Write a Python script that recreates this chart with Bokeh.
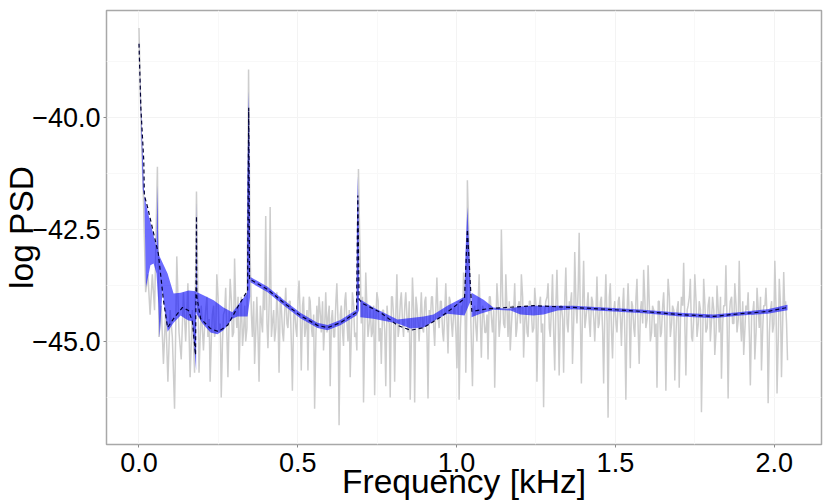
from bokeh.plotting import figure
from bokeh.models import FixedTicker
from bokeh.embed import file_html
from bokeh.resources import INLINE

# periodogram
grey_freq = [
    0.000, 0.007, 0.014, 0.021, 0.028, 0.035, 0.042, 0.049, 0.058, 0.063,
    0.070, 0.077, 0.084, 0.091, 0.098, 0.105, 0.112, 0.119, 0.126, 0.133,
    0.140, 0.147, 0.154, 0.161, 0.168, 0.175, 0.181, 0.189, 0.196, 0.203,
    0.210, 0.217, 0.224, 0.231, 0.238, 0.245, 0.252, 0.259, 0.266, 0.273,
    0.280, 0.287, 0.294, 0.301, 0.308, 0.315, 0.322, 0.329, 0.336, 0.345,
    0.350, 0.357, 0.364, 0.371, 0.378, 0.385, 0.392, 0.399, 0.406, 0.413,
    0.420, 0.427, 0.434, 0.441, 0.448, 0.455, 0.462, 0.469, 0.476, 0.483,
    0.490, 0.497, 0.504, 0.511, 0.518, 0.525, 0.532, 0.539, 0.546, 0.553,
    0.560, 0.567, 0.574, 0.581, 0.588, 0.595, 0.602, 0.609, 0.616, 0.623,
    0.630, 0.637, 0.644, 0.651, 0.658, 0.665, 0.672, 0.679, 0.686, 0.691,
    0.700, 0.707, 0.714, 0.721, 0.728, 0.735, 0.742, 0.749, 0.756, 0.763,
    0.770, 0.777, 0.784, 0.791, 0.798, 0.805, 0.812, 0.819, 0.826, 0.833,
    0.840, 0.847, 0.854, 0.861, 0.868, 0.875, 0.882, 0.889, 0.896, 0.903,
    0.910, 0.917, 0.924, 0.931, 0.938, 0.945, 0.952, 0.959, 0.966, 0.973,
    0.980, 0.987, 0.994, 1.001, 1.008, 1.015, 1.022, 1.029, 1.032, 1.034,
    1.050, 1.057, 1.064, 1.071, 1.078, 1.085, 1.092, 1.099, 1.106, 1.113,
    1.120, 1.127, 1.134, 1.141, 1.148, 1.155, 1.162, 1.169, 1.176, 1.183,
    1.190, 1.197, 1.204, 1.211, 1.218, 1.225, 1.232, 1.239, 1.246, 1.253,
    1.260, 1.267, 1.274, 1.281, 1.288, 1.295, 1.302, 1.309, 1.316, 1.323,
    1.330, 1.337, 1.344, 1.351, 1.358, 1.365, 1.372, 1.379, 1.386, 1.393,
    1.400, 1.407, 1.414, 1.421, 1.428, 1.435, 1.442, 1.449, 1.456, 1.463,
    1.470, 1.477, 1.484, 1.491, 1.498, 1.505, 1.512, 1.519, 1.526, 1.533,
    1.540, 1.547, 1.554, 1.561, 1.568, 1.575, 1.582, 1.589, 1.596, 1.603,
    1.610, 1.617, 1.624, 1.631, 1.638, 1.645, 1.652, 1.659, 1.666, 1.673,
    1.680, 1.687, 1.694, 1.701, 1.708, 1.715, 1.722, 1.729, 1.736, 1.743,
    1.750, 1.757, 1.764, 1.771, 1.778, 1.785, 1.792, 1.799, 1.806, 1.813,
    1.820, 1.827, 1.834, 1.841, 1.848, 1.855, 1.862, 1.869, 1.876, 1.883,
    1.890, 1.897, 1.904, 1.911, 1.918, 1.925, 1.932, 1.939, 1.946, 1.953,
    1.960, 1.967, 1.974, 1.981, 1.988, 1.995, 2.002, 2.009, 2.016, 2.023,
    2.030, 2.036, 2.042,
]
grey_psd = [
    -38.0, -40.3, -41.8, -43.9, -43.5, -44.4, -43.5, -44.3, -41.1, -44.9,
    -44.2, -45.5, -44.3, -45.9, -44.3, -44.9, -46.5, -43.1, -44.8, -45.4,
    -43.9, -45.0, -43.7, -45.8, -44.3, -45.7, -41.65, -45.7, -44.2, -45.2,
    -44.3, -44.9, -45.9, -44.4, -44.9, -43.5, -44.8, -46.25, -44.4, -43.8,
    -45.8, -43.6, -44.9, -43.15, -44.7, -45.65, -44.0, -44.8, -45.0, -38.93,
    -43.1, -44.9, -45.5, -44.0, -45.9, -44.5, -43.8, -42.2, -45.15, -42.0,
    -44.6, -45.0, -43.9, -45.7, -44.2, -45.0, -43.8, -44.7, -44.1, -46.1,
    -44.3, -44.9, -43.64, -45.65, -44.0, -44.7, -45.65, -44.1, -44.9, -46.5,
    -44.2, -44.0, -44.8, -45.2, -43.9, -44.5, -46.0, -44.3, -44.9, -43.7,
    -46.87, -44.2, -45.1, -43.9, -45.0, -45.8, -43.9, -44.9, -45.2, -41.15,
    -44.6, -46.36, -43.46, -44.9, -44.2, -44.8, -46.2, -43.9, -45.0, -45.5,
    -44.3, -46.0, -44.5, -46.25, -44.0, -45.9, -43.5, -44.7, -43.9, -44.9,
    -43.9, -44.8, -46.3, -43.57, -46.36, -44.2, -45.0, -43.9, -44.8, -44.0,
    -46.27, -44.6, -44.0, -45.1, -43.57, -44.7, -44.1, -45.0, -43.7, -45.27,
    -44.1, -44.9, -44.2, -45.6, -46.3, -44.2, -43.46, -45.7, -44.4, -41.4,
    -46.0, -44.2, -45.0, -43.5, -45.36, -44.3, -44.8, -45.4, -44.0, -44.8,
    -46.03, -43.7, -44.9, -42.5, -44.6, -43.5, -44.9, -45.2, -44.2, -43.7,
    -44.7, -44.1, -43.5, -45.36, -44.2, -44.9, -44.1, -44.8, -43.8, -45.9,
    -44.2, -44.8, -46.47, -44.1, -43.7, -44.9, -43.5, -45.65, -43.4, -45.76,
    -44.2, -45.7, -43.35, -44.8, -44.2, -45.5, -43.0, -44.6, -42.57, -45.94,
    -43.2, -44.5, -43.9, -44.9, -44.1, -45.0, -43.55, -44.6, -44.0, -45.94,
    -43.5, -46.7, -43.7, -45.38, -44.1, -44.8, -44.0, -45.1, -43.8, -46.3,
    -43.7, -45.6, -44.2, -44.9, -43.6, -45.5, -44.1, -43.4, -44.7, -43.3,
    -45.0, -44.2, -44.9, -46.03, -44.1, -44.8, -43.9, -46.1, -43.6, -44.9,
    -44.2, -45.87, -44.3, -46.03, -44.0, -43.24, -45.76, -44.2, -43.6, -45.0,
    -43.5, -44.9, -44.1, -46.58, -43.6, -44.8, -44.2, -45.0, -44.0, -45.3,
    -43.75, -44.8, -45.83, -44.2, -43.3, -46.27, -44.1, -44.6, -43.7, -44.8,
    -43.2, -45.0, -45.3, -44.2, -43.9, -45.98, -44.4, -45.4, -43.8, -44.7,
    -45.65, -44.2, -43.8, -46.38, -44.3, -44.8, -43.2, -46.16, -43.6, -45.8,
    -43.45, -44.1, -45.42,
]

# the bins in between the ones above
grey2_freq = [
    0.207, 0.214, 0.221, 0.228, 0.235, 0.242, 0.249, 0.256, 0.263, 0.270,
    0.277, 0.284, 0.291, 0.298, 0.305, 0.312, 0.319, 0.326, 0.333, 0.340,
    0.354, 0.361, 0.368, 0.375, 0.382, 0.389, 0.396, 0.403, 0.410, 0.417,
    0.424, 0.431, 0.438, 0.445, 0.452, 0.459, 0.466, 0.473, 0.480, 0.487,
    0.494, 0.501, 0.508, 0.515, 0.522, 0.529, 0.536, 0.543, 0.550, 0.557,
    0.564, 0.571, 0.578, 0.585, 0.592, 0.599, 0.606, 0.613, 0.620, 0.627,
    0.634, 0.641, 0.648, 0.655, 0.662, 0.669, 0.676, 0.683,
    0.704, 0.711, 0.718, 0.725, 0.732, 0.739, 0.746, 0.753, 0.760, 0.767,
    0.774, 0.781, 0.788, 0.795, 0.802, 0.809, 0.816, 0.823, 0.830, 0.837,
    0.844, 0.851, 0.858, 0.865, 0.872, 0.879, 0.886, 0.893, 0.900, 0.907,
    0.914, 0.921, 0.928, 0.935, 0.942, 0.949, 0.956, 0.963, 0.970, 0.977,
    0.984, 0.991, 0.998, 1.005, 1.012, 1.019, 1.026,
    1.054, 1.061, 1.068, 1.075, 1.082, 1.089, 1.096, 1.103, 1.110, 1.117,
    1.124, 1.131, 1.138, 1.145, 1.152, 1.159, 1.166, 1.173, 1.180, 1.187,
    1.194, 1.201, 1.208, 1.215, 1.222, 1.229, 1.236, 1.243, 1.250, 1.257,
    1.264, 1.271, 1.278, 1.285, 1.292, 1.299, 1.306, 1.313, 1.320, 1.327,
    1.334, 1.341, 1.348, 1.355, 1.362, 1.369, 1.376, 1.383, 1.390, 1.397,
    1.404, 1.411, 1.418, 1.425, 1.432, 1.439, 1.446, 1.453, 1.460, 1.467,
    1.474, 1.481, 1.488, 1.495, 1.502, 1.509, 1.516, 1.523, 1.530, 1.537,
    1.544, 1.551, 1.558, 1.565, 1.572, 1.579, 1.586, 1.593, 1.600, 1.607,
    1.614, 1.621, 1.628, 1.635, 1.642, 1.649, 1.656, 1.663, 1.670, 1.677,
    1.684, 1.691, 1.698, 1.705, 1.712, 1.719, 1.726, 1.733, 1.740, 1.747,
    1.754, 1.761, 1.768, 1.775, 1.782, 1.789, 1.796, 1.803, 1.810, 1.817,
    1.824, 1.831, 1.838, 1.845, 1.852, 1.859, 1.866, 1.873, 1.880, 1.887,
    1.894, 1.901, 1.908, 1.915, 1.922, 1.929, 1.936, 1.943, 1.950, 1.957,
    1.964, 1.971, 1.978, 1.985, 1.992, 1.999, 2.006, 2.013, 2.020, 2.027,
    2.033, 2.039,
]
grey2_psd = [
    -44.6, -44.0, -44.5, -44.9, -44.2, -44.7, -44.0, -44.6, -45.0, -44.3,
    -44.9, -44.4, -44.1, -44.8, -44.3, -44.0, -44.6, -45.1, -44.2, -44.7,
    -44.4, -44.1, -44.7, -44.9, -44.2, -44.8, -44.3, -44.6, -44.1, -44.9,
    -44.3, -44.7, -44.5, -44.0, -44.8, -44.3, -44.6, -44.1, -45.1, -44.4,
    -44.7, -44.0, -44.5, -44.2, -44.9, -44.3, -44.0, -44.7, -44.4, -44.9,
    -44.7, -44.4, -44.1, -44.6, -44.8, -44.2, -44.5, -44.9, -44.1, -44.6,
    -44.4, -44.8, -44.1, -44.6, -44.3, -44.7, -44.2, -44.8,
    -44.0, -44.7, -44.3, -44.6, -44.9, -44.2, -44.5, -44.1, -44.7, -44.3,
    -44.8, -44.2, -44.6, -44.0, -44.5, -44.3, -44.9, -44.1, -44.6, -44.2,
    -44.5, -44.1, -44.8, -44.3, -44.0, -44.6, -44.4, -44.7, -44.1, -44.9,
    -44.3, -44.0, -44.7, -44.2, -44.5, -44.1, -44.8, -44.3, -44.6, -44.0,
    -44.6, -44.3, -44.8, -44.1, -44.7, -44.4, -44.0,
    -44.3, -44.7, -44.1, -44.6, -44.2, -44.8, -44.4, -44.0, -44.5, -44.3,
    -44.6, -44.2, -44.5, -44.0, -44.7, -44.3, -44.1, -44.6, -44.3, -44.9,
    -44.2, -44.6, -44.0, -44.5, -44.8, -44.1, -44.4, -44.7, -44.2, -44.5,
    -44.0, -44.6, -44.3, -44.0, -44.7, -44.2, -44.9, -44.1, -44.6, -44.2,
    -44.5, -44.0, -44.6, -44.1, -43.9, -44.5, -44.2, -43.8, -44.6, -44.1,
    -44.7, -44.2, -44.6, -44.0, -44.5, -44.3, -44.7, -44.1, -44.8, -44.2,
    -44.6, -44.0, -44.8, -44.3, -44.6, -44.1, -44.5, -44.2, -44.9, -44.3,
    -44.5, -44.1, -44.7, -44.0, -44.8, -44.3, -44.6, -44.1, -44.5, -44.2,
    -44.8, -44.3, -44.6, -44.1, -44.9, -44.2, -44.7, -44.4, -44.0, -44.6,
    -44.3, -44.8, -44.1, -44.5, -44.2, -44.7, -44.3, -44.0, -44.9, -44.4,
    -44.1, -44.6, -44.3, -44.9, -44.2, -44.7, -44.0, -44.5, -44.3, -44.8,
    -44.3, -44.0, -44.6, -44.2, -44.7, -44.4, -44.0, -44.6, -44.2, -44.5,
    -44.6, -44.1, -44.7, -44.3, -44.9, -44.4, -44.1, -44.8, -44.3, -44.0,
    -44.7, -44.2, -44.5, -44.8, -44.1, -44.6, -44.3, -44.9, -44.2, -44.5,
    -44.2, -44.6,
]

# model mean (dashed)
mean_freq = [
    0.000, 0.006, 0.015, 0.017, 0.027, 0.061, 0.077, 0.090, 0.109, 0.137, 0.156, 0.168, 0.178,
    0.181, 0.182, 0.194, 0.225, 0.250, 0.279, 0.310, 0.342, 0.344, 0.3455, 0.348,
    0.351, 0.405, 0.455, 0.508, 0.562, 0.594, 0.634, 0.685, 0.689, 0.693,
    0.704, 0.760, 0.814, 0.855, 0.896, 0.949, 0.990, 1.025, 1.034, 1.048,
    1.097, 1.160, 1.201, 1.242, 1.368, 1.494, 1.589, 1.705, 1.809, 1.894, 1.979, 2.042,
]
mean_psd = [
    -38.35, -39.8, -40.96, -41.74, -42.0, -43.04, -44.08, -44.69, -44.49, -44.24, -44.31, -44.55, -45.3,
    -42.2, -44.0, -44.49, -44.71, -44.78, -44.64, -44.24, -43.86, -41.5, -39.78, -43.62,
    -43.62, -43.84, -44.13, -44.42, -44.64, -44.69, -44.58, -44.35, -41.74, -44.06,
    -44.15, -44.35, -44.64, -44.75, -44.69, -44.46, -44.24, -44.04, -42.5, -44.33,
    -44.27, -44.24, -44.22, -44.2, -44.24, -44.29, -44.33, -44.40, -44.44, -44.38, -44.33, -44.24,
]

# credible band, one piece between each pair of harmonics
band1_upper_f = [0.000, 0.012, 0.027, 0.055, 0.058, 0.061, 0.090, 0.109, 0.131, 0.156, 0.178, 0.180]
band1_upper = [-38.28, -41.6, -42.08, -42.9, -41.5, -43.04, -43.48, -43.93, -43.91, -43.86, -43.88, -43.9]
band1_lower_f = [0.180, 0.176, 0.168, 0.156, 0.146, 0.131, 0.109, 0.090, 0.074, 0.065, 0.061, 0.055, 0.046, 0.036, 0.022, 0.017, 0.005, 0.000]
band1_lower = [-45.65, -45.3, -44.55, -44.53, -44.49, -44.42, -44.58, -44.78, -43.86, -44.91, -44.15, -43.48, -43.26, -43.3, -43.79, -41.9, -39.5, -38.35]

band2_upper_f = [0.180, 0.181, 0.183, 0.203, 0.235, 0.266, 0.294, 0.310, 0.340, 0.341, 0.3455, 0.349, 0.350]
band2_upper = [-43.91, -41.85, -43.9, -43.97, -44.08, -44.24, -44.35, -44.2, -43.93, -41.5, -39.4, -41.5, -43.95]
band2_lower_f = [0.350, 0.342, 0.310, 0.294, 0.266, 0.247, 0.225, 0.200, 0.181]
band2_lower = [-44.0, -44.44, -44.44, -44.49, -44.75, -44.84, -44.8, -44.6, -44.38]

band3_upper_f = [0.351, 0.405, 0.455, 0.508, 0.562, 0.594, 0.634, 0.685, 0.686, 0.689, 0.692, 0.693]
band3_upper = [-43.56, -43.78, -44.07, -44.36, -44.58, -44.63, -44.52, -44.29, -42.5, -41.3, -42.5, -44.3]
band3_lower_f = [0.693, 0.685, 0.634, 0.594, 0.562, 0.508, 0.455, 0.405, 0.351]
band3_lower = [-44.3, -44.42, -44.64, -44.75, -44.70, -44.48, -44.19, -43.90, -43.68]

band4_upper_f = [0.697, 0.738, 0.814, 0.896, 0.927, 0.971, 1.025, 1.028, 1.034, 1.040, 1.044]
band4_upper = [-44.06, -44.24, -44.51, -44.44, -44.40, -44.2, -44.0, -43.0, -42.0, -43.0, -43.9]
band4_lower_f = [1.044, 1.025, 0.971, 0.940, 0.896, 0.855, 0.814, 0.738, 0.697]
band4_lower = [-44.1, -44.42, -44.38, -44.49, -44.69, -44.71, -44.6, -44.49, -44.46]

band5_upper_f = [1.047, 1.085, 1.116, 1.160, 1.201, 1.242, 1.359, 1.368, 1.494, 1.589, 1.705, 1.809, 1.894, 1.979, 2.042]
band5_upper = [-43.91, -44.07, -44.24, -44.27, -44.22, -44.2, -44.2, -44.20, -44.25, -44.29, -44.36, -44.40, -44.34, -44.28, -44.18]
band5_lower_f = [2.042, 1.979, 1.894, 1.809, 1.705, 1.589, 1.494, 1.368, 1.318, 1.274, 1.242, 1.201, 1.170, 1.116, 1.075, 1.047]
band5_lower = [-44.30, -44.38, -44.42, -44.48, -44.44, -44.37, -44.33, -44.28, -44.31, -44.40, -44.42, -44.40, -44.31, -44.29, -44.38, -44.46]

bands = [
    (band1_upper_f, band1_upper, band1_lower_f, band1_lower),
    (band2_upper_f, band2_upper, band2_lower_f, band2_lower),
    (band3_upper_f, band3_upper, band3_lower_f, band3_lower),
    (band4_upper_f, band4_upper, band4_lower_f, band4_lower),
    (band5_upper_f, band5_upper, band5_lower_f, band5_lower),
]

x_ticks = [0.0, 0.5, 1.0, 1.5, 2.0]
x_minor = [0.25, 0.75, 1.25, 1.75]
y_ticks = [-45.0, -42.5, -40.0]
y_minor = [-46.25, -43.75, -41.25, -38.75]
x_labels = {0.0: "0.0", 0.5: "0.5", 1.0: "1.0", 1.5: "1.5", 2.0: "2.0"}
y_labels = {-45.0: "\u221245.0", -42.5: "\u221242.5", -40.0: "\u221240.0"}

all_grey = sorted(zip(grey_freq + grey2_freq, grey_psd + grey2_psd))

p = figure(width=830, height=503, x_range=(-0.1023, 2.149), y_range=(-47.3, -37.61),
           output_backend="svg", toolbar_location=None,
           min_border_left=106, min_border_right=9, min_border_top=10, min_border_bottom=59)

p.line([g[0] for g in all_grey], [g[1] for g in all_grey], line_color="#cdcdcd", line_width=1.5)

for upper_f, upper, lower_f, lower in bands:
    p.patch(upper_f + lower_f, upper + lower, fill_color="#0000ff", fill_alpha=0.58, line_color=None)

p.line(mean_freq, mean_psd, line_color="#000033", line_width=1.2, line_dash="4 3")

p.xaxis.ticker = FixedTicker(ticks=x_ticks, minor_ticks=x_minor)
p.yaxis.ticker = FixedTicker(ticks=y_ticks, minor_ticks=y_minor)
p.xaxis.major_label_overrides = x_labels
p.yaxis.major_label_overrides = y_labels

p.xaxis.axis_label = "Frequency [kHz]"
p.yaxis.axis_label = "log PSD"
for ax in [p.xaxis, p.yaxis]:
    ax.axis_line_color = None
    ax.major_tick_line_color = "#8c8c8c"
    ax.major_tick_in = 0
    ax.major_tick_out = 3
    ax.minor_tick_line_color = None
    ax.major_label_text_font = "Liberation Sans"
    ax.major_label_text_font_size = "27px"
    ax.major_label_text_color = "black"
    ax.major_label_standoff = 2
    ax.axis_label_text_font = "Liberation Sans"
    ax.axis_label_text_font_size = "33.5px"
    ax.axis_label_text_font_style = "normal"
    ax.axis_label_text_color = "black"
p.xaxis.major_label_standoff = 4
p.xaxis.axis_label_standoff = -12
p.yaxis.axis_label_standoff = -11

p.grid.grid_line_color = "#f3f3f3"
p.grid.minor_grid_line_color = "#f8f8f8"
p.outline_line_color = "#a8a8a8"
p.outline_line_width = 1.5

open("out.html", "w").write(file_html(p, INLINE))
